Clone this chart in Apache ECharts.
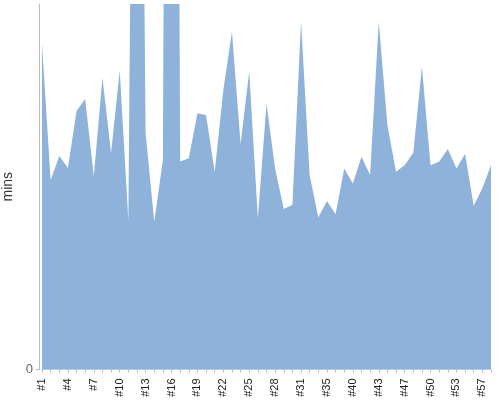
<!DOCTYPE html>
<html>
<head>
<meta charset="utf-8">
<script src="https://cdn.jsdelivr.net/npm/echarts@6/dist/echarts.min.js"></script>
<style>
  html, body { margin: 0; padding: 0; background: #fff; }
  #myChart { width: 500px; height: 400px; }
</style>
</head>
<body>
<div id="myChart"></div>
<script>
  // run ids on the x axis (some numbers are missing in the source)
  var runs = ['#1', '#2', '#3', '#4', '#5', '#6', '#7', '#8', '#9', '#10',
    '#11', '#12', '#13', '#14', '#15', '#16', '#17', '#18', '#19', '#20',
    '#21', '#22', '#23', '#24', '#25', '#26', '#27', '#28', '#29', '#30',
    '#31', '#32', '#34', '#35', '#36', '#38', '#40', '#41', '#42', '#43',
    '#44', '#46', '#47', '#48', '#49', '#50', '#51', '#52', '#53', '#54',
    '#56', '#57', '#58']

  // minutes per run (two runs go far past the top of the axis)
  var mins = [89.2, 51.8, 58.4, 55.1, 70.7, 74.0, 52.9, 79.8, 59.3, 81.8,
    40.9, 330, 64.7, 40.4, 57.3, 600, 56.9, 57.8, 70.1, 69.6,
    54.1, 76.5, 92.4, 61.7, 81.5, 41.4, 72.7, 54.9, 43.9, 45.1,
    95.2, 53.2, 41.6, 46.1, 42.5, 55.0, 50.9, 58.2, 53.2, 95.2,
    66.9, 54.1, 55.9, 59.3, 82.8, 55.9, 56.9, 60.3, 55.0, 59.0,
    44.8, 49.6, 55.9]

  var yMax = 100

  var myCharts = echarts.init(document.getElementById('myChart'))
  myCharts.setOption({
    animation: false,
    grid: {
      left: 42,
      right: 9,
      top: 4,
      bottom: 30.5,
      containLabel: false,
      outerBoundsMode: 'none'
    },
    xAxis: {
      type: 'category',
      boundaryGap: false,
      data: runs,
      offset: 3,
      axisLine: {lineStyle: {color: '#d0d0d0', width: 1}},
      axisTick: {
        interval: 0,
        length: 3,
        lineStyle: {color: '#bbbbbb'}
      },
      axisLabel: {
        interval: 2,
        rotate: 90,
        margin: 6,
        fontSize: 11,
        fontFamily: 'Liberation Sans, Arial, sans-serif',
        color: '#222'
      },
      splitLine: {show: false}
    },
    yAxis: {
      type: 'value',
      min: 0,
      max: yMax,
      interval: yMax,
      offset: 3,
      name: 'mins',
      nameLocation: 'middle',
      nameGap: 23,
      nameTextStyle: {
        fontSize: 14,
        fontFamily: 'Liberation Sans, Arial, sans-serif',
        color: '#333'
      },
      axisLine: {show: true, lineStyle: {color: '#bbbbbb', width: 1}},
      axisTick: {show: true, length: 3, customValues: [0], lineStyle: {color: '#bbbbbb'}},
      axisLabel: {
        showMaxLabel: false,
        margin: 6,
        fontSize: 13,
        fontFamily: 'Liberation Sans, Arial, sans-serif',
        color: '#666'
      },
      splitLine: {show: false}
    },
    series: [{
      type: 'line',
      data: mins,
      symbol: 'none',
      clip: true,
      lineStyle: {width: 0},
      areaStyle: {color: '#8fb2db', opacity: 1}
    }]
  })
</script>
</body>
</html>
